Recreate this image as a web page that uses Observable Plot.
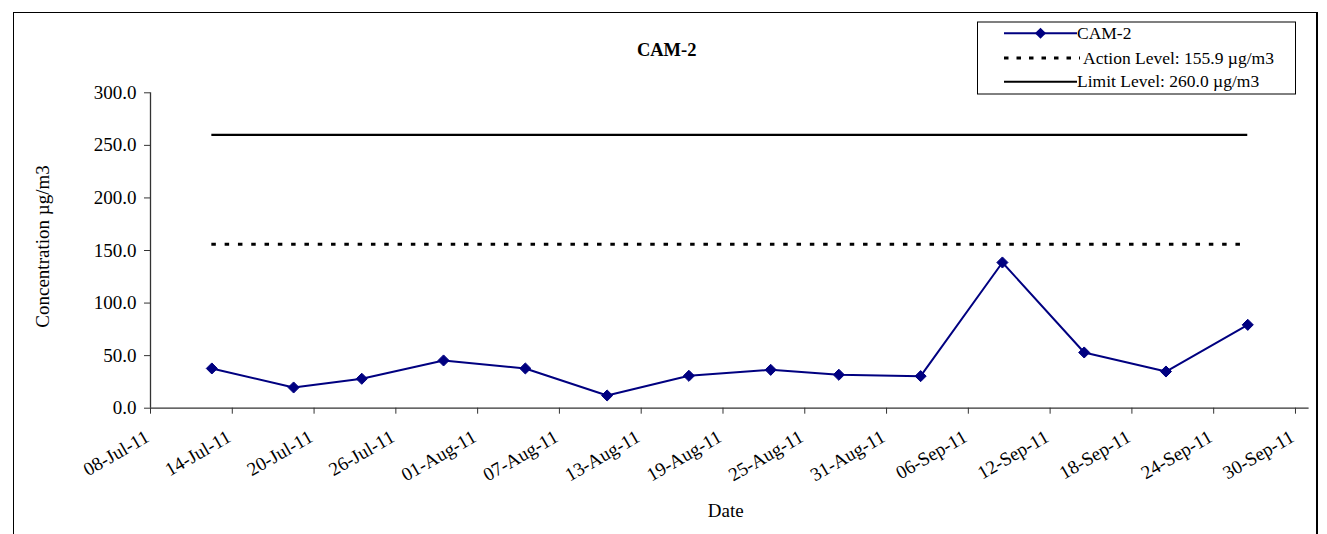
<!DOCTYPE html>
<html><head><meta charset="utf-8">
<script src="https://cdn.jsdelivr.net/npm/d3@7"></script>
<script src="https://cdn.jsdelivr.net/npm/@observablehq/plot@0.6"></script>
<style>
body{margin:0;background:#fff;font-family:"Liberation Serif","Times New Roman",serif;}
#wrap{position:relative;width:1327px;height:534px;overflow:hidden;}
#wrap svg{position:absolute;left:0;top:0;}
#border{position:absolute;left:12.5px;top:11.5px;width:1305px;height:600px;border:1px solid #000;border-right-width:2px;box-sizing:border-box}
</style></head>
<body>
<div id="wrap">
  <div id="border"></div>
</div>
<script>
// ---- data ----
const chartTitle = "CAM-2";
const seriesName = "CAM-2";
const sampleDates = ["2011-07-12","2011-07-18","2011-07-23","2011-07-29","2011-08-04","2011-08-10","2011-08-16","2011-08-22","2011-08-27","2011-09-02","2011-09-08","2011-09-14","2011-09-20","2011-09-26"];
const concentrations = [37.8, 19.7, 28.0, 45.4, 37.8, 12.1, 30.8, 36.5, 31.8, 30.5, 138.6, 53.0, 34.9, 79.3];
const actionLevel = 155.9;
const limitLevel = 260.0;
const actionLabel = "Action Level: 155.9 \u00b5g/m3";
const limitLabel = "Limit Level: 260.0 \u00b5g/m3";
const xDomain = ["2011-07-08", "2011-10-01"];
const xTickDates = ["2011-07-08","2011-07-14","2011-07-20","2011-07-26","2011-08-01","2011-08-07","2011-08-13","2011-08-19","2011-08-25","2011-08-31","2011-09-06","2011-09-12","2011-09-18","2011-09-24","2011-09-30"];
const yTicks = [0, 50, 100, 150, 200, 250, 300];
const yDomain = [0, 300];
const xLabel = "Date";
const yLabel = "Concentration \u00b5g/m3";

// Excel date axis puts each point in the middle of its day
const HALF_DAY = 12 * 3600e3;
const utc = s => new Date(s + "T00:00:00Z");
const data = sampleDates.map((d, i) => ({date: new Date(+utc(d) + HALF_DAY), value: concentrations[i]}));
const firstDate = data[0].date, lastDate = data[data.length - 1].date;

const navy = "#000080";
const axisColor = "#333";
const FONT = "'Liberation Serif','Times New Roman',serif";
const FS = 19;
const xTicks = xTickDates.map(utc);

const chart = Plot.plot({
  width: 1327,
  height: 534,
  marginLeft: 150,
  marginRight: 18.4,
  marginTop: 92.3,
  marginBottom: 126.3,
  style: `font-family:${FONT};font-size:${FS}px;background:transparent;color:#000;overflow:visible`,
  x: {type: "utc", domain: xDomain.map(utc)},
  y: {domain: yDomain},
  marks: [
    Plot.ruleY([limitLevel], {x1: firstDate, x2: lastDate, stroke: "#000", strokeWidth: 2.4}),
    Plot.ruleY([actionLevel], {x1: firstDate, x2: lastDate, stroke: "#000", strokeWidth: 3, strokeDasharray: "4.5,8.8"}),
    Plot.line(data, {x: "date", y: "value", stroke: navy, strokeWidth: 2}),
    Plot.dot(data, {x: "date", y: "value", symbol: "diamond2", r: 5, fill: navy, stroke: navy, strokeWidth: 1}),
    Plot.ruleY([yDomain[0]], {stroke: axisColor, strokeWidth: 1.3}),
    Plot.ruleX([utc(xDomain[0])], {stroke: axisColor, strokeWidth: 1.3}),
    // x tick marks
    Plot.axisX({ticks: xTicks, tickSize: 6, tickFormat: () => "", stroke: axisColor, label: null}),
    // x tick labels
    Plot.axisX({
      ticks: xTicks,
      tickFormat: d3.utcFormat("%d-%b-%y"),
      tickRotate: -30,
      tickSize: 0,
      tickPadding: 27,
      dx: -3,
      fontSize: FS,
      fontFamily: FONT,
      label: null
    }),
    Plot.axisY({
      ticks: yTicks,
      tickFormat: d => d.toFixed(1),
      tickSize: 6,
      tickPadding: 8,
      stroke: axisColor,
      fontSize: FS,
      fontFamily: FONT,
      label: null
    }),
    Plot.text([xLabel], {text: d => d, frameAnchor: "bottom", textAnchor: "middle", dx: -4, dy: 103, lineAnchor: "middle", fontSize: FS, fontFamily: FONT}),
    Plot.text([yLabel], {text: d => d, frameAnchor: "left", textAnchor: "middle", dx: -108, dy: -4, rotate: -90, lineAnchor: "middle", fontSize: FS, fontFamily: FONT})
  ]
});
document.getElementById("wrap").appendChild(chart);

// ---- title and legend overlay ----
const ov = d3.select("#wrap").append("svg").attr("width", 1327).attr("height", 534)
  .style("font-family", FONT).style("overflow", "visible");
ov.append("text").attr("x", 666.7).attr("y", 56).attr("text-anchor", "middle")
  .attr("font-size", 18.5).attr("font-weight", "bold").text(chartTitle);

const legendItems = [
  {label: seriesName, kind: "series"},
  {label: actionLabel, kind: "action"},
  {label: limitLabel, kind: "limit"}
];
const lg = ov.append("g").attr("transform", "translate(977,21.5)").attr("font-size", 17.5);
lg.append("rect").attr("x", 0.5).attr("y", 0.5).attr("width", 318).attr("height", 72).attr("fill", "#fff").attr("stroke", "#000");
const rowY = [11.8, 36.5, 60.2];
legendItems.forEach((it, i) => {
  const g = lg.append("g").attr("transform", `translate(0,${rowY[i]})`);
  const line = g.append("line").attr("x1", 27).attr("x2", it.kind === "action" ? 103 : 100).attr("y1", 0).attr("y2", 0);
  if (it.kind === "series") {
    line.attr("stroke", navy).attr("stroke-width", 2);
    g.append("path").attr("d", d3.symbol(d3.symbolDiamond2, Math.PI * 25)()).attr("transform", "translate(63.5,0)").attr("fill", navy);
  } else if (it.kind === "action") {
    line.attr("stroke", "#000").attr("stroke-width", 3).attr("stroke-dasharray", "4.5,8");
  } else {
    line.attr("stroke", "#000").attr("stroke-width", 2);
  }
  g.append("text").attr("x", it.kind === "action" ? 106 : 100).attr("y", 0).attr("dy", "0.33em").text(it.label);
});
</script>
</body></html>
